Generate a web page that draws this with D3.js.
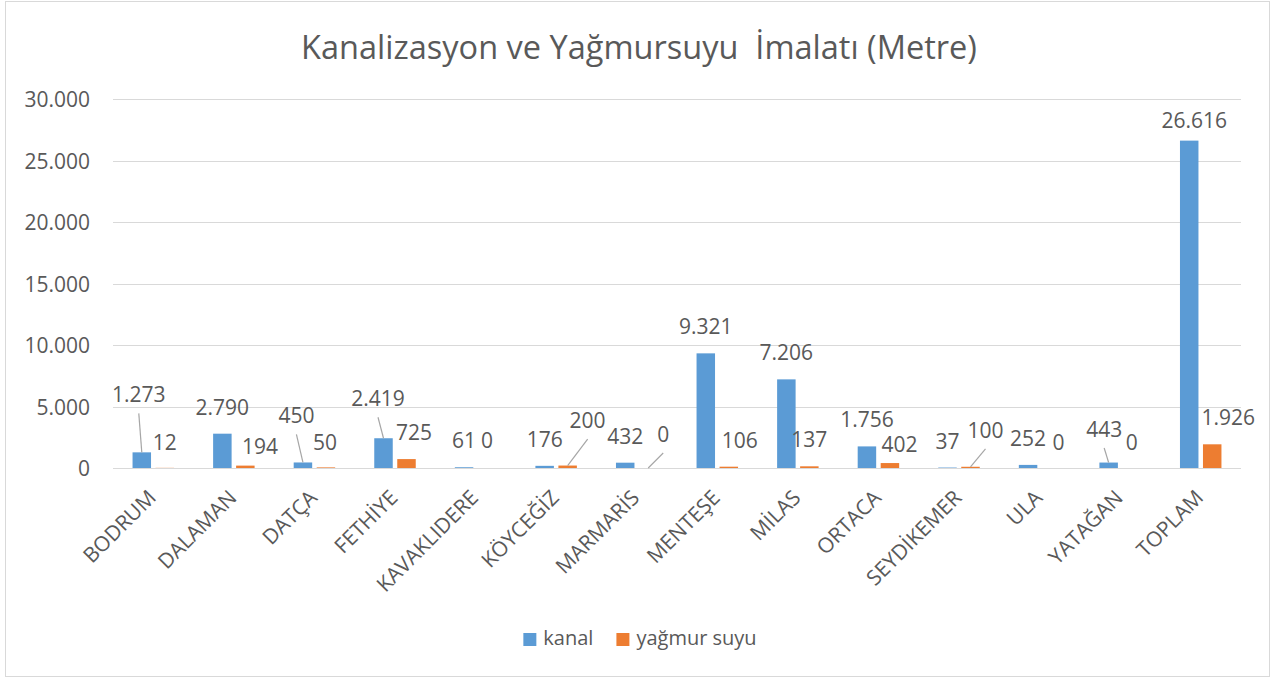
<!DOCTYPE html>
<html>
<head>
<meta charset="utf-8">
<script src="https://cdn.jsdelivr.net/npm/d3@7"></script>
<style>
  html, body { margin: 0; padding: 0; background: #fff; }
  text { font-family: "Open Sans", "DejaVu Sans", sans-serif; fill: #595959; }
</style>
</head>
<body>
<svg id="chart" width="1278" height="680"></svg>
<script>
// ---- data ----
const title = "Kanalizasyon ve Yağmursuyu  İmalatı (Metre)";
const categories = ["BODRUM", "DALAMAN", "DATÇA", "FETHİYE", "KAVAKLIDERE", "KÖYCEĞİZ", "MARMARİS", "MENTEŞE", "MİLAS", "ORTACA", "SEYDİKEMER", "ULA", "YATAĞAN", "TOPLAM"];
const seriesNames = ["kanal", "yağmur suyu"];
const kanal = [1273, 2790, 450, 2419, 61, 176, 432, 9321, 7206, 1756, 37, 252, 443, 26616];
const yagmurSuyu = [12, 194, 50, 725, 0, 200, 0, 106, 137, 402, 100, 0, 0, 1926];
const yTicks = [0, 5000, 10000, 15000, 20000, 25000, 30000];

// ---- label layout (pixel nudges of data labels, leader-line flags) ----
const kanalLabelShift = [[-3, -31], [0, 0], [-6.5, -20], [-5.5, -13], [0, 0], [0, 0], [0, 0], [0, 0], [0, 0], [0, 0], [0, 0], [0, 0], [-4.5, -6.5], [5, 6]];
const kanalLeader = [1, 0, 1, 1, 0, 0, 0, 0, 0, 0, 0, 0, 1, 0];
const yagmurLabelShift = [[0, 1], [14.6, 7], [-1, 1.5], [7.5, 0], [0, -1], [20, -18.5], [15, -7], [11, 0], [0, 0], [9.6, 8], [15, -10], [7.5, 1], [0, 1], [16, 0]];
const yagmurLeader = [0, 0, 0, 0, 0, 1, 1, 0, 0, 0, 1, 0, 0, 0];

const colors = ["#5B9BD5", "#ED7D31"];
const plot = { left: 113, right: 1241, top: 99, bottom: 468 };

const loc = d3.formatLocale({ decimal: ",", thousands: ".", grouping: [3], currency: ["", ""] });
const fmt = loc.format(",d");

const svg = d3.select("#chart");

// chart area border
svg.append("rect").attr("x", 5.5).attr("y", 1.5).attr("width", 1264).attr("height", 675)
  .attr("fill", "#fff").attr("stroke", "#D9D9D9").attr("stroke-width", 1);

// title (fit to measured width)
const t = svg.append("text").attr("x", 639).attr("y", 59).attr("text-anchor", "middle")
  .style("white-space", "pre").style("font-size", "28px").text(title);
const tw = t.node().getComputedTextLength();
t.style("font-size", (28 * 676 / tw) + "px");

const x = d3.scaleBand().domain(categories).range([plot.left, plot.right]).padding(0);
const x1 = d3.scaleBand().domain(seriesNames).range([0, x.bandwidth()]).paddingInner(0.196).paddingOuter(0.85);
const y = d3.scaleLinear().domain([0, 30000]).range([plot.bottom, plot.top]);

// gridlines
svg.append("g").selectAll("line").data(yTicks).join("line")
  .attr("x1", plot.left).attr("x2", plot.right)
  .attr("y1", d => Math.round(y(d)) + 0.5).attr("y2", d => Math.round(y(d)) + 0.5)
  .attr("stroke", "#D9D9D9").attr("stroke-width", 1);

// y axis labels
const yAxis = d3.axisLeft(y).tickValues(yTicks).tickFormat(fmt).tickSize(0).tickPadding(0);
const yg = svg.append("g").attr("transform", `translate(${plot.left - 23},0)`).call(yAxis);
yg.select(".domain").remove();
yg.selectAll("text").style("font-size", "21px").attr("fill", "#595959").attr("dy", "0.36em")
  .style("font-family", "'Open Sans', sans-serif");

// category labels
svg.append("g").selectAll("text").data(categories).join("text")
  .attr("transform", d => `translate(${x(d) + x.bandwidth() / 2 + 4},${plot.bottom + 31}) rotate(-45)`)
  .attr("text-anchor", "end")
  .style("font-size", "21px")
  .text(d => d);

// bars
const series = [kanal, yagmurSuyu];
const shifts = [kanalLabelShift, yagmurLabelShift];
const leaders = [kanalLeader, yagmurLeader];

series.forEach((vals, si) => {
  const g = svg.append("g");
  const recs = categories.map((c, i) => ({ c, i, v: vals[i] }));
  g.selectAll("rect").data(recs).join("rect")
    .attr("x", d => x(d.c) + x1(seriesNames[si]))
    .attr("width", x1.bandwidth())
    .attr("y", d => y(d.v))
    .attr("height", d => y(0) - y(d.v))
    .attr("fill", colors[si]);

  const cx = d => x(d.c) + x1(seriesNames[si]) + x1.bandwidth() / 2;
  const lx = d => cx(d) + shifts[si][d.i][0];
  const ly = d => y(d.v) - 19 + shifts[si][d.i][1];

  g.selectAll("line").data(recs.filter(d => leaders[si][d.i])).join("line")
    .attr("x1", d => lx(d)).attr("y1", d => ly(d) + 11)
    .attr("x2", d => cx(d)).attr("y2", d => y(d.v))
    .attr("stroke", "#A6A6A6").attr("stroke-width", 1.2);

  g.selectAll("text").data(recs).join("text")
    .attr("x", lx).attr("y", ly)
    .attr("text-anchor", "middle")
    .style("font-size", "21px")
    .attr("fill", "#404040")
    .text(d => fmt(d.v));
});

// legend
const lg = svg.append("g");
const items = [];
seriesNames.forEach((n, i) => {
  const it = lg.append("g");
  it.append("rect").attr("x", 0).attr("y", -12).attr("width", 13).attr("height", 13).attr("fill", colors[i]);
  const tx = it.append("text").attr("x", 20).attr("y", 0).style("font-size", "20px").text(n);
  const w = 20 + tx.node().getComputedTextLength();
  items.push({ it, w });
});
const gap = 23;
const total = items.reduce((a, b) => a + b.w, 0) + gap * (items.length - 1);
let cur = 640 - total / 2;
items.forEach(o => { o.it.attr("transform", `translate(${cur},645)`); cur += o.w + gap; });
</script>
</body>
</html>
